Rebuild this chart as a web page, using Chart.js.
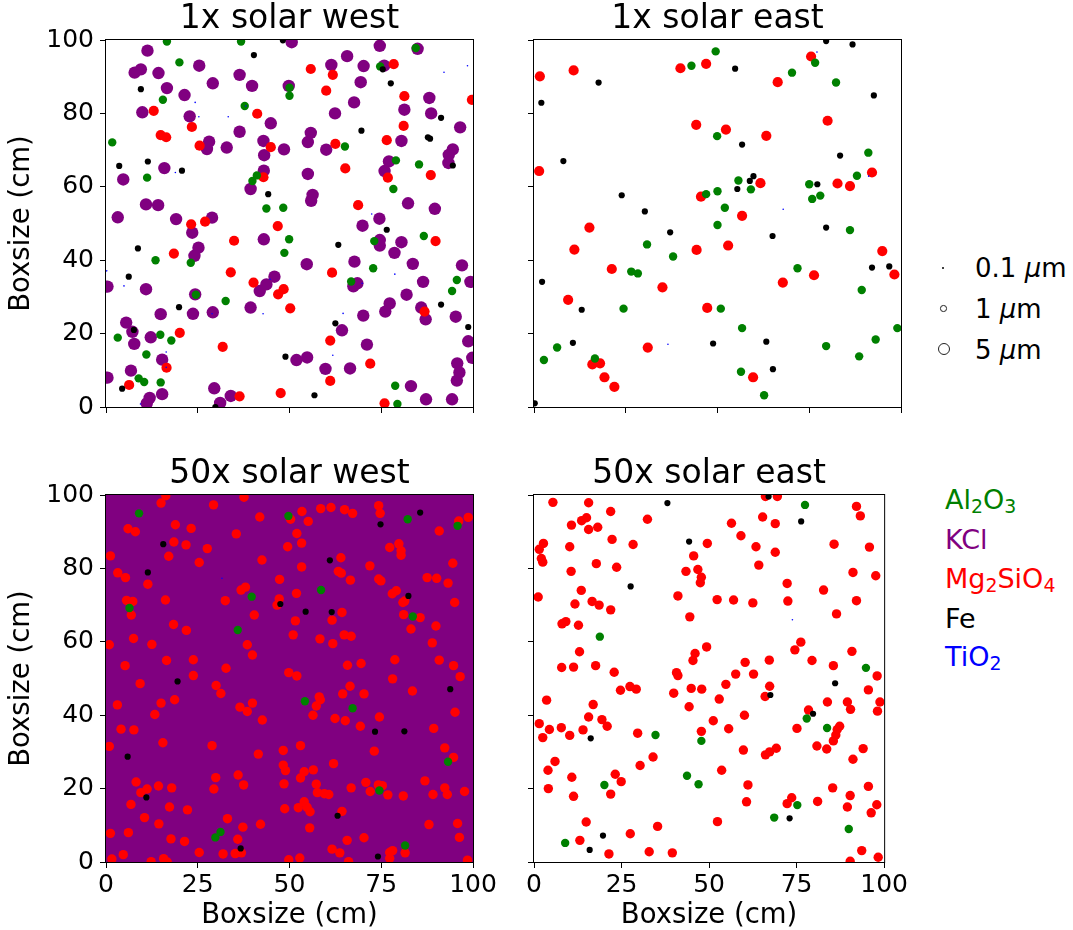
<!DOCTYPE html>
<html>
<head>
<meta charset="utf-8">
<script src="https://cdn.jsdelivr.net/npm/chart.js@4.4.1/dist/chart.umd.min.js"></script>
<style>
  html, body { margin: 0; padding: 0; background: #fff; }
  body { width: 1073px; height: 930px; position: relative; overflow: hidden; font-family: 'DejaVu Sans', sans-serif; }
  canvas { position: absolute; }
  .lg { position: absolute; white-space: nowrap; height: 40px; line-height: 40px; }
  .size { left: 975px; font-size: 26px; color: #000; }
  .elem { left: 945px; font-size: 27px; }
  .elem sub { font-size: 70%; vertical-align: -0.22em; line-height: 0; }
  .mk { position: absolute; border-radius: 50%; box-sizing: border-box; }
</style>
</head>
<body>
<canvas id="c1" width="520" height="430" style="left:0;top:0"></canvas>
<canvas id="c2" width="430" height="430" style="left:480px;top:0"></canvas>
<canvas id="c3" width="520" height="475" style="left:0;top:455px"></canvas>
<canvas id="c4" width="430" height="475" style="left:480px;top:455px"></canvas>

<!-- size legend -->
<div class="mk" style="left:941.5px;top:266.5px;width:2.4px;height:2.4px;background:#000"></div>
<div class="mk" style="left:940px;top:305px;width:6.5px;height:6.5px;border:1px solid #222"></div>
<div class="mk" style="left:938px;top:343px;width:12px;height:12px;border:1.2px solid #222"></div>
<div class="lg size" style="top:248px">0.1 <i>μ</i>m</div>
<div class="lg size" style="top:289px">1 <i>μ</i>m</div>
<div class="lg size" style="top:330px">5 <i>μ</i>m</div>

<!-- species legend -->
<div class="lg elem" style="top:480px;color:#008000">Al<sub>2</sub>O<sub>3</sub></div>
<div class="lg elem" style="top:520px;color:#800080">KCl</div>
<div class="lg elem" style="top:559px;color:#ff0000">Mg<sub>2</sub>SiO<sub>4</sub></div>
<div class="lg elem" style="top:599px;color:#000">Fe</div>
<div class="lg elem" style="top:637px;color:#0000ff">TiO<sub>2</sub></div>

<script>
Chart.defaults.font.family = "'DejaVu Sans', sans-serif";
Chart.defaults.color = '#000';

const ticksX = [0, 25, 50, 75, 100];
const ticksY = [0, 20, 40, 60, 80, 100];
const panelTitles = ['1x solar west', '1x solar east', '50x solar west', '50x solar east'];
const axisLabel = 'Boxsize (cm)';

// --- 1x solar west ---
const kclWest1 = [
  [11.3,97.1],[7.8,91.1],[9.5,92.0],[14.3,91.0],[25.4,93.0],[36.4,90.5],[29.1,88.2],[39.8,87.5],[49.8,87.5],[16.6,86.9],
  [21.4,85.0],[9.9,80.3],[22.8,79.2],[44.9,77.3],[36.4,75.0],[42.9,72.5],[28.1,72.3],[27.5,70.3],[32.9,70.7],[48.5,70.2],
  [43.1,68.6],[15.9,65.1],[43.0,64.4],[4.7,62.0],[39.4,59.4],[10.9,55.2],[14.2,55.0],[3.2,51.7],[19.1,51.2],[28.9,51.6],
  [23.5,47.5],[25.2,43.4],[24.1,41.2],[43.0,45.7],[45.9,35.5],[43.7,33.4],[41.9,31.6],[0.4,32.8],[10.9,32.1],[24.3,30.7],
  [39.4,27.1],[14.9,25.3],[23.7,25.4],[29.1,25.8],[5.5,23.0],[7.2,20.5],[7.7,17.2],[12.2,19.0],[15.3,12.9],[6.8,9.9],
  [0.4,8.0],[29.5,5.1],[15.3,3.5],[11.9,2.5],[11.1,1.0],[34.0,3.0],[31.1,1.1],
  [50.6,99.4],[74.6,98.4],[84.9,97.6],[65.7,95.6],[61.4,93.2],[70.2,92.9],[75.8,93.0],[69.4,88.5],[88.1,84.2],[67.6,83.0],
  [81.3,81.0],[88.6,80.0],[62.4,80.0],[96.5,76.2],[55.8,74.7],[55.0,72.2],[80.5,72.5],[60.0,70.1],[94.5,70.2],[93.4,68.7],
  [93.3,66.5],[77.1,66.9],[75.9,64.3],[55.0,63.5],[56.3,57.8],[55.9,56.2],[82.3,55.5],[89.6,54.0],[74.5,51.3],[69.9,49.4],
  [74.6,45.5],[74.6,44.0],[80.5,44.9],[78.6,42.0],[54.7,38.9],[67.7,39.6],[83.6,39.0],[97.0,38.6],[67.4,32.9],[68.5,33.7],
  [86.4,34.1],[99.3,34.1],[81.9,30.6],[77.3,28.2],[76.1,26.0],[85.9,27.1],[87.1,23.9],[95.3,24.6],[70.1,24.9],[64.3,20.9],
  [98.7,17.9],[71.1,17.0],[51.9,12.8],[54.8,13.5],[99.8,13.4],[59.8,10.4],[66.5,10.5],[95.7,11.9],[96.3,9.4],[95.6,7.2],
  [83.1,5.7],[87.2,2.1],[94.3,2.1]
];
const mgWest1 = [
  [13.0,80.7],[41.2,79.9],[23.4,76.3],[14.9,74.1],[16.4,73.5],[25.5,71.2],[44.9,70.8],[42.9,62.6],[23.2,49.8],[27.0,50.5],
  [46.8,49.3],[34.9,45.3],[18.5,41.8],[34.0,36.7],[40.2,33.9],[48.4,32.1],[46.9,30.7],[50.2,26.9],[20.1,20.2],[31.8,16.4],
  [16.5,10.7],[6.3,6.0],[36.4,2.9],[47.6,3.8],
  [55.8,92.1],[61.8,90.5],[78.4,93.4],[60.0,86.2],[81.3,84.7],[99.7,83.7],[81.1,76.6],[76.5,72.7],[62.5,71.7],[65.2,65.0],
  [76.8,62.5],[88.5,63.2],[68.7,55.0],[89.8,45.2],[61.6,36.6],[86.8,26.0],[61.1,18.1],[72.0,11.8],[61.1,7.1],[75.9,1.0]
];
const alWest1 = [
  [16.6,99.6],[36.8,99.6],[20.0,93.9],[15.5,83.7],[37.8,82.0],[50.0,87.0],[50.0,84.8],[1.7,72.1],[11.2,62.5],[41.1,63.1],
  [39.9,61.6],[43.7,54.1],[48.3,54.3],[49.9,45.7],[48.6,42.0],[13.5,40.0],[23.1,39.3],[24.5,30.6],[32.6,28.9],[3.2,18.9],
  [14.8,19.7],[17.8,18.1],[11.0,14.3],[8.9,7.8],[10.4,6.8],[14.9,6.7],
  [84.4,97.8],[74.7,92.8],[65.1,71.0],[79.0,67.2],[85.3,66.1],[78.3,59.4],[86.6,46.6],[73.1,45.2],[72.8,37.8],[66.8,34.2],
  [95.6,34.6],[94.3,31.6],[78.8,5.8],[79.4,0.8]
];
const feWest1 = [
  [48.2,99.9],[40.3,95.9],[9.5,86.6],[3.6,65.7],[11.4,66.9],[20.7,64.4],[44.2,58.0],[8.7,43.2],[6.2,35.5],[19.9,27.2],
  [7.6,21.0],[48.9,13.7],[4.4,5.0],[29.8,0.0],
  [75.4,92.0],[77.6,88.2],[91.3,78.8],[69.6,75.3],[87.7,73.5],[88.3,73.1],[94.5,65.8],[76.5,48.3],[63.3,44.2],[91.3,27.9],
  [62.5,22.8],[98.7,21.8],[56.8,3.2]
];
const tiWest1 = [
  [24.3,83.0],[25.3,79.1],[33.3,79.1],[38.1,82.0],[18.9,63.9],[0.2,37.1],[4.9,33.0],[44.7,34.8],[42.8,25.4],[28.9,25.4],
  [16.4,15.0],[16.4,10.8],[9.4,0.8],[92.1,91.2],[98.5,93.0],[72.4,52.6],[78.7,36.2],[69.8,33.7],[64.6,25.5],[61.8,14.1]
];

// --- 1x solar east ---
const mgEast1 = [
  [1.6,90.1],[10.8,91.7],[39.9,92.3],[46.9,93.5],[44.2,76.9],[1.4,64.3],[45.5,57.3],[15.1,48.9],[11.0,42.9],[21.2,37.6],
  [44.3,42.8],[35.0,32.6],[9.3,29.2],[47.2,27.0],[31.0,16.2],[15.9,11.6],[18.0,11.9],[19.2,8.1],[21.9,5.5],
  [75.5,95.5],[66.4,88.5],[80.0,78.0],[52.3,75.6],[63.3,73.9],[61.7,61.0],[82.7,60.9],[86.1,60.2],[92.1,63.9],[56.7,52.1],
  [52.9,44.0],[94.9,42.5],[98.2,36.1],[76.3,35.9],[67.8,33.9],[59.7,8.1]
];
const alEast1 = [
  [49.5,96.9],[42.9,93.0],[49.9,73.8],[46.9,58.0],[50.0,58.8],[50.0,49.6],[30.8,44.3],[37.9,41.0],[26.5,36.9],[28.3,36.4],
  [24.4,26.8],[6.3,16.2],[2.7,12.8],[16.6,13.2],
  [76.6,93.8],[70.3,91.1],[82.3,88.4],[91.1,69.3],[88.0,63.0],[55.7,61.7],[59.1,59.3],[75.0,60.7],[75.8,56.7],[78.0,57.6],
  [52.0,54.3],[86.1,48.2],[71.8,37.8],[89.3,31.9],[50.9,26.8],[56.7,21.5],[99.0,21.5],[93.1,18.4],[79.6,16.6],[88.6,13.8],
  [56.4,9.6],[62.7,3.2]
];
const feEast1 = [
  [17.6,88.4],[2.0,82.9],[8.0,67.0],[23.9,57.7],[30.2,53.3],[37.1,47.6],[2.2,34.1],[13.0,26.5],[10.6,17.5],[48.8,17.3],
  [0.2,1.0],
  [79.6,99.7],[86.8,98.8],[54.8,92.2],[92.6,84.9],[56.7,71.5],[83.4,68.5],[59.8,62.9],[58.8,61.6],[55.4,59.4],[77.2,60.7],
  [79.6,48.9],[65.0,46.6],[92.1,38.0],[96.8,38.3],[63.3,17.8],[65.1,10.3]
];
const tiEast1 = [[36.5,17.1],[77.1,96.7],[67.9,53.9],[91.2,62.9]];

// --- 50x solar west (KCl covers the whole box) ---
const mgWest50 = [
  [16.3,99.8],[15.0,97.8],[29.3,97.3],[37.6,99.4],[41.9,94.0],[6.0,90.8],[8.0,90.0],[18.9,91.9],[23.2,90.9],[35.5,89.4],
  [18.5,87.2],[21.8,86.4],[27.6,85.4],[49.5,85.9],[1.2,83.4],[17.1,83.3],[42.5,82.3],[25.4,81.6],[3.2,78.8],[5.3,77.5],
  [11.4,75.7],[47.3,77.0],[36.8,74.1],[38.0,74.9],[5.6,71.3],[7.3,71.0],[16.2,71.4],[32.5,71.2],[47.2,71.7],[46.6,70.0],
  [6.9,67.3],[40.4,67.3],[18.4,64.7],[21.9,63.1],[7.5,60.9],[0.9,59.2],[12.5,59.3],[38.5,59.2],[39.9,56.4],[5.2,53.5],
  [16.5,54.9],[23.8,55.1],[32.7,52.8],[9.3,48.6],[23.8,50.8],[30.0,48.1],[31.3,45.9],[3.1,42.8],[15.0,43.3],[18.7,44.2],
  [13.3,40.2],[36.5,42.2],[38.5,41.0],[39.9,43.3],[42.6,38.7],[4.1,36.2],[7.6,36.0],[15.5,32.5],[0.9,31.5],[28.9,31.7],
  [41.5,29.4],[48.3,30.4],[48.3,26.4],[48.9,24.9],[8.2,21.8],[9.5,18.9],[11.2,19.9],[14.3,20.7],[17.9,20.2],[29.9,23.0],
  [29.4,19.9],[36.0,23.7],[37.5,21.0],[48.5,21.3],[6.8,15.7],[17.3,15.0],[22.2,14.2],[48.7,14.5],[10.5,12.1],[14.4,10.4],
  [33.1,11.8],[42.1,10.3],[1.2,7.8],[6.1,8.0],[37.3,9.5],[17.7,6.3],[21.4,5.6],[35.9,6.2],[25.4,2.6],[31.9,2.2],
  [35.2,2.3],[36.9,2.5],[4.7,2.0],[1.6,0.8],[12.3,0.1],[15.7,0.9],[16.7,0.0],[49.8,0.6],[49.8,51.6],
  [50.3,93.4],[53.4,95.5],[55.1,92.8],[58.5,96.3],[61.3,96.6],[65.0,96.0],[67.2,95.0],[74.3,97.1],[74.7,95.0],[96.1,92.9],
  [98.7,93.9],[90.8,90.2],[52.0,89.5],[53.3,86.9],[77.3,85.7],[79.8,86.7],[80.4,84.8],[80.4,83.6],[64.0,82.9],[94.5,81.4],
  [53.3,80.4],[71.9,80.7],[63.3,79.2],[64.1,78.7],[66.6,76.8],[74.3,77.1],[74.9,76.6],[87.5,77.5],[90.1,77.3],[93.2,76.0],
  [51.9,73.2],[78.0,73.1],[79.1,73.9],[80.9,70.7],[81.4,71.1],[95.0,70.7],[64.3,68.0],[61.6,65.9],[51.6,65.7],[81.1,67.4],
  [85.6,66.6],[89.9,64.3],[83.1,63.5],[51.0,61.9],[58.3,60.8],[61.8,59.5],[64.9,61.9],[66.8,61.5],[88.9,59.7],[65.8,53.6],
  [69.5,54.1],[78.7,55.1],[90.8,55.0],[94.7,53.5],[96.5,50.5],[52.0,50.7],[78.1,49.9],[83.5,46.6],[66.5,47.9],[64.5,45.8],
  [70.3,45.8],[58.1,45.0],[58.4,44.2],[57.3,42.5],[56.4,40.0],[62.4,39.1],[65.2,38.5],[74.5,39.5],[69.3,37.0],[95.1,40.8],
  [89.3,36.4],[53.0,31.7],[73.1,30.2],[92.3,31.1],[94.7,28.5],[62.0,26.8],[54.0,24.6],[56.5,25.1],[53.0,22.9],[57.3,21.2],
  [57.6,18.9],[59.5,18.6],[60.7,18.4],[66.8,20.2],[70.8,21.7],[72.0,19.2],[74.2,21.0],[75.3,20.8],[76.8,18.3],[81.0,18.0],
  [86.9,22.1],[89.1,18.4],[92.3,20.2],[93.0,18.4],[97.7,19.2],[52.4,14.8],[54.0,16.4],[54.8,14.9],[55.6,13.7],[64.3,13.8],
  [55.5,9.3],[65.7,5.9],[70.3,6.6],[88.0,10.2],[95.8,10.5],[96.3,6.7],[61.6,3.5],[63.7,2.5],[66.1,0.1],[77.3,2.6],
  [78.1,3.1],[77.3,1.0],[81.5,2.5],[52.8,1.1],[98.5,0.5]
];
const alWest50 = [
  [9.0,95.0],[49.7,94.3],[39.7,72.3],[6.4,69.2],[35.9,63.2],[31.2,8.2],[29.8,6.7],[82.2,93.4],[95.8,91.6],[58.6,74.1],
  [83.6,66.9],[54.2,43.8],[67.2,41.9],[93.2,27.3],[74.5,19.5],[81.5,4.5]
];
const feWest50 = [
  [15.6,86.6],[11.4,78.9],[47.5,70.3],[19.5,49.2],[5.9,28.7],[11.0,17.6],[36.7,3.7],[85.6,95.2],[74.8,92.0],[61.0,82.2],
  [82.4,72.5],[54.4,68.2],[61.5,68.1],[93.8,47.1],[73.3,35.5],[81.3,35.6],[63.1,12.6],[74.1,1.5]
];
const tiWest50 = [[31.6,77.3]];

// --- 50x solar east ---
const mgEast50 = [
  [5.4,98.0],[15.6,97.9],[21.9,95.5],[15.0,93.8],[13.6,93.0],[10.7,91.8],[15.6,90.6],[18.2,91.2],[32.4,93.4],[22.3,87.9],
  [28.3,86.5],[2.7,86.8],[1.5,85.2],[10.2,85.9],[49.5,86.8],[2.1,82.7],[2.5,81.7],[17.8,81.3],[23.6,80.3],[10.6,79.2],
  [45.6,83.4],[43.4,79.2],[46.8,79.7],[47.8,77.6],[47.5,76.1],[1.2,72.2],[13.5,74.0],[11.7,70.3],[16.6,71.0],[18.6,70.0],
  [21.9,68.7],[41.1,72.5],[44.5,66.8],[8.0,64.9],[9.1,65.5],[12.7,64.5],[13.0,57.3],[7.9,53.0],[11.3,53.1],[17.6,53.5],
  [22.9,51.7],[24.7,46.8],[27.4,47.8],[29.2,47.1],[40.7,51.6],[41.1,50.8],[39.9,46.0],[44.9,47.3],[47.9,47.1],[46.0,56.8],
  [45.4,54.9],[49.3,58.6],[44.3,42.3],[3.6,44.1],[16.9,42.9],[15.6,39.5],[19.4,38.8],[20.9,37.0],[1.5,37.7],[4.4,36.1],
  [2.5,33.9],[7.8,36.6],[10.2,34.5],[14.0,36.0],[29.6,35.1],[47.8,35.6],[6.0,27.4],[4.0,25.0],[10.8,23.1],[4.1,20.0],
  [11.3,17.9],[23.2,23.9],[24.9,21.9],[21.9,18.5],[30.3,26.3],[34.0,28.6],[14.9,10.9],[13.1,5.9],[27.5,7.7],[35.3,9.7],
  [21.4,2.2],[32.9,2.8],[39.5,2.5],
  [66.1,99.6],[69.5,99.6],[92.1,96.9],[93.2,94.3],[65.3,94.0],[56.4,92.3],[68.9,92.2],[59.1,88.9],[63.4,85.9],[85.7,86.6],
  [95.8,85.8],[68.9,84.4],[64.2,80.9],[91.1,78.9],[97.6,78.0],[72.3,75.9],[82.7,74.1],[52.3,71.5],[57.0,71.4],[62.5,70.6],
  [72.5,71.1],[92.1,71.2],[86.4,67.6],[76.2,59.9],[74.5,57.8],[90.8,57.4],[79.4,54.9],[67.2,55.0],[60.3,54.4],[85.5,53.5],
  [98.0,50.7],[57.6,51.2],[62.7,51.2],[54.8,48.4],[67.3,47.9],[66.0,45.1],[95.5,46.9],[52.9,44.4],[83.8,43.6],[89.5,43.6],
  [90.4,41.6],[98.8,43.6],[98.1,41.1],[78.4,41.4],[51.2,38.5],[60.1,40.0],[75.1,36.4],[55.6,36.3],[87.3,37.0],[86.6,36.1],
  [86.2,34.6],[85.5,33.0],[80.8,31.6],[83.6,30.8],[59.8,30.5],[66.1,29.2],[67.3,30.0],[69.2,31.0],[94.0,30.9],[91.1,28.0],
  [53.6,25.0],[61.1,21.0],[85.3,20.2],[95.5,20.6],[60.7,16.4],[73.6,17.5],[72.3,15.9],[81.0,16.5],[90.3,18.1],[89.5,15.0],
  [97.9,15.6],[96.3,13.4],[52.4,11.0],[93.6,3.1],[98.3,1.3],[90.3,0.2]
];
const alEast50 = [
  [18.8,61.4],[34.7,34.6],[47.8,33.0],[43.7,23.5],[47.0,21.2],[20.1,21.0],[8.9,5.2],[77.4,97.3],[94.8,52.9],[77.9,39.1],
  [83.7,36.5],[75.2,15.5],[68.6,12.1],[89.9,9.0]
];
const feEast50 = [
  [38.1,97.8],[44.3,87.3],[27.6,75.1],[16.2,33.7],[19.7,7.2],[15.9,3.3],[67.0,99.6],[76.3,92.8],[86.0,48.7],[67.5,45.5],
  [79.7,40.4],[73.0,11.9]
];
const tiEast50 = [[73.8,66.0]];

// box outline + optional plot background (KCl fills the 50x west box)
const frame = {
  id: 'frame',
  beforeDatasetsDraw(chart, args, opts) {
    if (!opts.fill) return;
    const a = chart.chartArea, ctx = chart.ctx;
    ctx.save();
    ctx.fillStyle = opts.fill;
    ctx.fillRect(a.left, a.top, a.right - a.left, a.bottom - a.top);
    ctx.restore();
  },
  afterDatasetsDraw(chart) {
    const a = chart.chartArea, ctx = chart.ctx;
    ctx.save();
    ctx.strokeStyle = '#000';
    ctx.lineWidth = 1;
    ctx.strokeRect(a.left - 0.5, a.top - 0.5, a.right - a.left + 1, a.bottom - a.top + 1);
    ctx.restore();
  }
};

function pts(list, color, r) {
  return {
    data: list.map(([x, y]) => ({ x, y })),
    backgroundColor: color,
    pointRadius: r,
    pointHoverRadius: r,
    pointBorderWidth: 0,
    clip: 0
  };
}

function makePanel(id, title, sets, showX, showY, fill, redR) {
  // first dataset is drawn on top
  const datasets = [
    pts(sets.ti || [], '#0000ff', 0.8),
    pts(sets.fe || [], '#000000', 3.1),
    pts(sets.al || [], '#008000', 4.2),
    pts(sets.mg || [], '#ff0000', redR),
    pts(sets.kcl || [], '#800080', 6.2)
  ];
  new Chart(document.getElementById(id), {
    type: 'scatter',
    data: { datasets },
    plugins: [frame],
    options: {
      responsive: false,
      devicePixelRatio: 1,
      animation: false,
      events: [],
      layout: { padding: { top: 0, left: 0, bottom: 0, right: showY ? 47 : 9 } },
      plugins: {
        legend: { display: false },
        tooltip: { enabled: false },
        frame: { fill },
        title: {
          display: true, text: title, fullSize: false, color: '#000',
          font: { size: 33, weight: 'normal', lineHeight: 1 },
          padding: { top: 3, bottom: 4 }
        }
      },
      scales: {
        x: {
          type: 'linear', position: 'bottom', min: 0, max: 100,
          afterBuildTicks: s => { s.ticks = ticksX.map(v => ({ value: v })); },
          afterFit: s => { s.height = showX ? 68 : 23; },
          grid: { drawOnChartArea: false, drawTicks: true, tickLength: 6, color: '#000', tickColor: '#000' },
          border: { display: false },
          ticks: { display: showX, font: { size: 25 }, color: '#000', padding: 2, maxRotation: 0, autoSkip: false },
          title: { display: showX, text: axisLabel, color: '#000', font: { size: 27.5, lineHeight: 1 }, padding: { top: 0, bottom: 0 } }
        },
        y: {
          type: 'linear', position: 'left', min: 0, max: 100,
          afterBuildTicks: s => { s.ticks = ticksY.map(v => ({ value: v })); },
          afterFit: s => { s.width = showY ? 106 : 54; },
          grid: { drawOnChartArea: false, drawTicks: true, tickLength: 6, color: '#000', tickColor: '#000' },
          border: { display: false },
          ticks: { display: showY, font: { size: 25 }, color: '#000', padding: 6, autoSkip: false },
          title: { display: showY, text: axisLabel, color: '#000', font: { size: 27.5, lineHeight: 1 }, padding: { top: 8.5, bottom: 0 } }
        }
      }
    }
  });
}

makePanel('c1', panelTitles[0], { kcl: kclWest1, mg: mgWest1, al: alWest1, fe: feWest1, ti: tiWest1 }, false, true, null, 5.1);
makePanel('c2', panelTitles[1], { mg: mgEast1, al: alEast1, fe: feEast1, ti: tiEast1 }, false, false, null, 5.1);
makePanel('c3', panelTitles[2], { mg: mgWest50, al: alWest50, fe: feWest50, ti: tiWest50 }, true, true, '#800080', 4.7);
makePanel('c4', panelTitles[3], { mg: mgEast50, al: alEast50, fe: feEast50, ti: tiEast50 }, true, false, null, 4.7);
</script>
</body>
</html>
